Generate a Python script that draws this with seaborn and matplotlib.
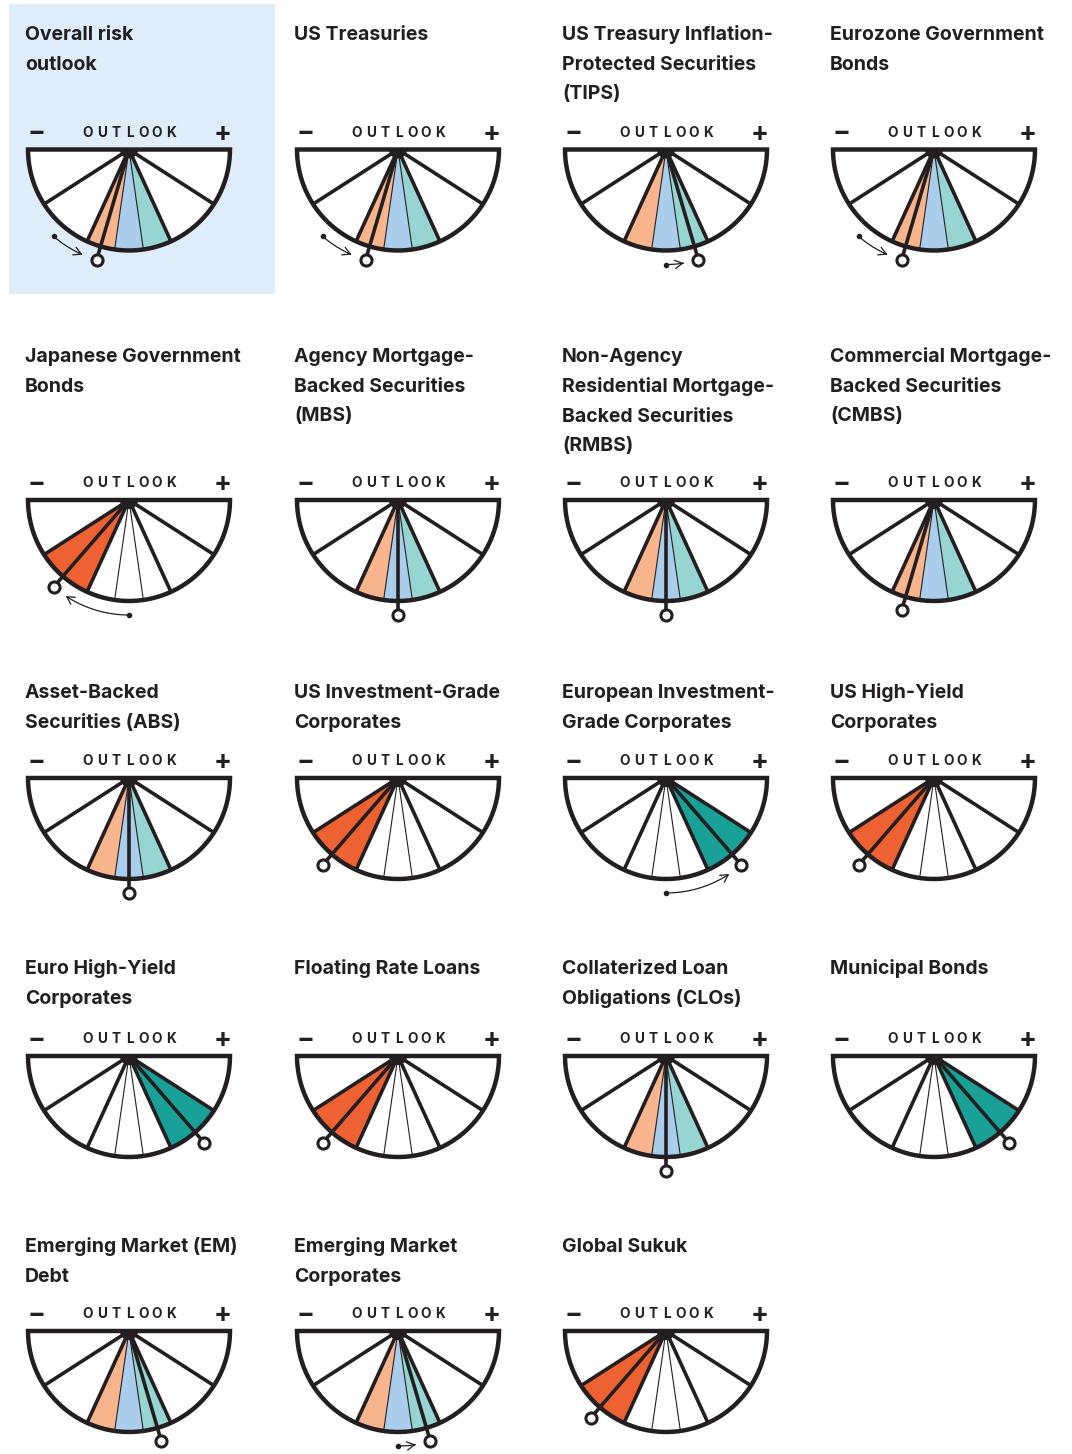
import numpy as np
import pandas as pd
import matplotlib
matplotlib.use("Agg")
import matplotlib.pyplot as plt
from matplotlib.patches import FancyArrowPatch, Rectangle
from matplotlib.path import Path
import seaborn as sns

# ---------------- data ----------------
titles = [
    "Overall risk\noutlook",
    "US Treasuries",
    "US Treasury Inflation-\nProtected Securities\n(TIPS)",
    "Eurozone Government\nBonds",
    "Japanese Government\nBonds",
    "Agency Mortgage-\nBacked Securities\n(MBS)",
    "Non-Agency\nResidential Mortgage-\nBacked Securities\n(RMBS)",
    "Commercial Mortgage-\nBacked Securities\n(CMBS)",
    "Asset-Backed\nSecurities (ABS)",
    "US Investment-Grade\nCorporates",
    "European Investment-\nGrade Corporates",
    "US High-Yield\nCorporates",
    "Euro High-Yield\nCorporates",
    "Floating Rate Loans",
    "Collaterized Loan\nObligations (CLOs)",
    "Municipal Bonds",
    "Emerging Market (EM)\nDebt",
    "Emerging Market\nCorporates",
    "Global Sukuk",
]
current_level = [-1, -1, 1, -1, -2, 0, 0, -1, 0, -2, 2, -2, 2, -2, 0, 2, 1, 1, -2]
previous_level = [-2, -2, 0, -2, 0, 0, 0, -1, 0, -2, 0, -2, 2, -2, 0, 2, 1, 0, -2]
highlighted = ["Overall risk\noutlook"]

# outlook scale: 11 angular units across the half circle
segment_edges = [0, 2, 4, 5, 6, 7, 9, 11]
thin_edges = [5, 6]
level_units = {-3: 1, -2: 3, -1: 4.5, 0: 5.5, 1: 6.5, 2: 8, 3: 10}
outlook_word = "OUTLOOK"

# ---------------- style ----------------
DARK = "#231f20"
PALE_ORANGE = "#f8b48c"
PALE_BLUE = "#a9cdeb"
PALE_TEAL = "#96d5d1"
STRONG_ORANGE = "#ee6132"
STRONG_TEAL = "#19a197"
HIGHLIGHT = "#deedf9"

sns.set_theme(style="white")
plt.rcParams["font.family"] = ["Inter", "DejaVu Sans"]

W, H = 1072, 1454
fig = plt.figure(figsize=(W / 100, H / 100), dpi=100)
ax = fig.add_axes([0, 0, 1, 1])
ax.set_axis_off()

col_left = [25, 294, 562, 830]
row_title_y = [32, 354, 690, 966, 1244]
row_gauge_y = [149.5, 500, 778, 1056, 1331]
R = 101
RN = 115
LINE_H = 29.5
DEG_PER_UNIT = 180 / 11


def polar(cx, cy, r, u):
    th = np.deg2rad(np.asarray(u) * DEG_PER_UNIT)
    return cx - r * np.cos(th), cy + r * np.sin(th)


def wedge(cx, cy, u0, u1, r=R):
    us = np.linspace(u0, u1, 60)
    xs, ys = polar(cx, cy, r, us)
    return np.r_[cx, xs, cx], np.r_[cy, ys, cy]


markers = []
prev_dots = []

for i, title in enumerate(titles):
    row, col = divmod(i, 4)
    left = col_left[col]
    cx = left + 104
    cy = row_gauge_y[row]
    ty = row_title_y[row]

    if title in highlighted:
        ax.add_patch(Rectangle((9, 4), 266, 290, facecolor=HIGHLIGHT,
                               edgecolor="none", zorder=0))

    for k, line in enumerate(title.split("\n")):
        ax.text(left, ty + 8.5 + k * LINE_H, line, ha="left", va="baseline",
                fontsize=14, fontweight="bold", color=DARK, zorder=5)

    # header: - OUTLOOK +
    for k, ch in enumerate(outlook_word):
        ax.text(cx + 0.5 + (k - 3) * 13.8, cy - 12.8, ch, ha="center",
                va="baseline", fontsize=9.8, fontweight="bold", color=DARK,
                zorder=5)
    ax.text(cx - 92.5, cy - 16, "\u2212", ha="center", va="center",
            fontsize=19, fontweight="bold", color=DARK, zorder=5)
    ax.text(cx + 93.5, cy - 16, "+", ha="center", va="center",
            fontsize=19, fontweight="bold", color=DARK, zorder=5)

    # base white half disc
    xs, ys = wedge(cx, cy, 0, 11)
    ax.fill(xs, ys, facecolor="white", edgecolor="none", zorder=1)

    lvl = current_level[i]
    if lvl in (-1, 0, 1):
        fills = [(4, 5, PALE_ORANGE), (5, 6, PALE_BLUE), (6, 7, PALE_TEAL)]
    elif lvl <= -2:
        fills = [(2, 4, STRONG_ORANGE)]
    else:
        fills = [(7, 9, STRONG_TEAL)]
    for u0, u1, c in fills:
        xs, ys = wedge(cx, cy, u0, u1)
        ax.fill(xs, ys, facecolor=c, edgecolor="none", zorder=2)

    # radial separators
    for e in segment_edges[1:-1]:
        ex, ey = polar(cx, cy, R, e)
        ax.plot([cx, ex], [cy, ey], color=DARK,
                lw=0.8 if e in thin_edges else 2.6,
                solid_capstyle="butt", zorder=3)

    # outline
    xs, ys = wedge(cx, cy, 0, 11)
    ax.fill(xs[1:], ys[1:], facecolor="none", edgecolor=DARK, lw=3.2,
            joinstyle="miter", zorder=4)

    # hub
    hx, hy = wedge(cx, cy, 0, 11, r=9)
    ax.fill(hx, hy, facecolor=DARK, edgecolor="none", zorder=4)

    # needle
    u = level_units[lvl]
    nx, ny = polar(cx, cy, RN, u)
    ax.plot([cx, nx], [cy, ny], color=DARK, lw=2.6,
            solid_capstyle="butt", zorder=4)
    markers.append({"x": nx, "y": ny})

    # change arrow
    p = previous_level[i]
    if p != lvl:
        up = level_units[p]
        gap = 7.5 / DEG_PER_UNIT
        uend = u - gap if u > up else u + gap
        us = np.linspace(up, uend, 40)
        axs, ays = polar(cx, cy, RN, us)
        arr = FancyArrowPatch(path=Path(np.column_stack([axs, ays])),
                              arrowstyle="->,head_length=0.45,head_width=0.25",
                              mutation_scale=12, lw=0.9, color=DARK, zorder=4)
        ax.add_patch(arr)
        prev_dots.append({"x": axs[0], "y": ays[0]})

markers_df = pd.DataFrame(markers)
dots_df = pd.DataFrame(prev_dots)

sns.scatterplot(data=markers_df, x="x", y="y", ax=ax, s=64,
                facecolor="white", edgecolor=DARK, linewidth=2.2,
                zorder=6, legend=False)
sns.scatterplot(data=dots_df, x="x", y="y", ax=ax, s=16,
                color=DARK, linewidth=0, zorder=6, legend=False)

ax.set_xlim(0, W)
ax.set_ylim(H, 0)
ax.set_axis_off()
fig.savefig("out.png", dpi=100, facecolor="white")
